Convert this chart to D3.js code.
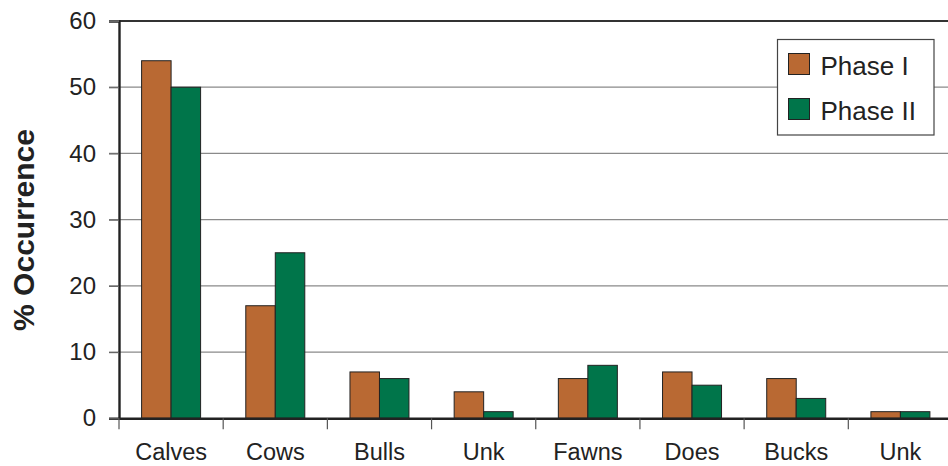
<!DOCTYPE html>
<html lang="en">
<head>
<meta charset="utf-8">
<title>% Occurrence</title>
<script src="https://cdnjs.cloudflare.com/ajax/libs/d3/7.8.5/d3.min.js"></script>
<style>
  body { margin: 0; background: #fff; }
  text { font-family: "Liberation Sans", Arial, Helvetica, sans-serif; fill: #222; }
</style>
</head>
<body>
<div id="chart"></div>
<script>
var categories = ["Calves", "Cows", "Bulls", "Unk", "Fawns", "Does", "Bucks", "Unk"];
var phase1 = [54, 17, 7, 4, 6, 7, 6, 1];
var phase2 = [50, 25, 6, 1, 8, 5, 3, 1];
var seriesNames = ["Phase I", "Phase II"];
var yTicks = [0, 10, 20, 30, 40, 50, 60];

var width = 948, height = 466;
var plotLeft = 119, plotTop = 21, plotRight = 952.5, plotBottom = 418.3;
var colors = ["#b96933", "#00754a"];

var svg = d3.select("#chart").append("svg")
  .attr("width", width)
  .attr("height", height);

var x = d3.scaleBand()
  .domain(d3.range(categories.length))
  .range([plotLeft, plotRight]);

var sub = d3.scaleBand()
  .domain([0, 1])
  .range([0, 59]);

var y = d3.scaleLinear()
  .domain([0, 60])
  .range([plotBottom, plotTop]);

// gridlines (with the tick extending left of the axis)
svg.append("g")
  .selectAll("line")
  .data(yTicks.filter(function(d) { return d > 0 && d < 60; }))
  .enter().append("line")
    .attr("x1", plotLeft - 10)
    .attr("x2", width)
    .attr("y1", function(d) { return y(d); })
    .attr("y2", function(d) { return y(d); })
    .attr("stroke", "#8a8a8a")
    .attr("stroke-width", 1.2);

// top border
svg.append("line")
  .attr("x1", plotLeft).attr("x2", width)
  .attr("y1", y(60)).attr("y2", y(60))
  .attr("stroke", "#333").attr("stroke-width", 1.8);

// bars
var groups = svg.append("g")
  .selectAll("g")
  .data(categories.map(function(c, i) { return [phase1[i], phase2[i]]; }))
  .enter().append("g")
    .attr("transform", function(d, i) { return "translate(" + (x(i) + (x.bandwidth() - 59) / 2) + ",0)"; });

groups.selectAll("rect")
  .data(function(d) { return d; })
  .enter().append("rect")
    .attr("x", function(d, j) { return sub(j); })
    .attr("width", sub.bandwidth())
    .attr("y", function(d) { return y(d); })
    .attr("height", function(d) { return y(0) - y(d); })
    .attr("fill", function(d, j) { return colors[j]; })
    .attr("stroke", "#222")
    .attr("stroke-width", 1);

// y axis
var yAxis = svg.append("g")
  .attr("transform", "translate(" + plotLeft + ",0)")
  .call(d3.axisLeft(y).tickValues(yTicks).tickSize(10).tickPadding(13));
yAxis.select(".domain").attr("stroke", "#222").attr("stroke-width", 2.4);
yAxis.selectAll(".tick line").attr("stroke", "#666").attr("stroke-width", 1.2);
yAxis.selectAll(".tick text")
  .style("font-size", "24px")
  .style("font-family", "'Liberation Sans', Arial, sans-serif")
  .attr("fill", "#222");

// x axis
var xAxis = svg.append("g")
  .attr("transform", "translate(0," + plotBottom + ")")
  .call(d3.axisBottom(x).tickSize(0).tickPadding(25).tickFormat(function(i) { return categories[i]; }));
xAxis.select(".domain").attr("stroke", "#222").attr("stroke-width", 2.6);
xAxis.selectAll(".tick text")
  .style("font-size", "23.5px")
  .style("font-family", "'Liberation Sans', Arial, sans-serif")
  .attr("fill", "#222");

// x boundary ticks
svg.append("g")
  .selectAll("line")
  .data(d3.range(categories.length))
  .enter().append("line")
    .attr("x1", function(i) { return x(i); })
    .attr("x2", function(i) { return x(i); })
    .attr("y1", plotBottom)
    .attr("y2", plotBottom + 11)
    .attr("stroke", "#555")
    .attr("stroke-width", 1.2);

// y title
svg.append("text")
  .attr("transform", "translate(34,230) rotate(-90)")
  .attr("text-anchor", "middle")
  .style("font-size", "30px")
  .style("font-weight", "bold")
  .text("% Occurrence");

// legend
var legend = svg.append("g").attr("transform", "translate(777.5,39.5)");
legend.append("rect")
  .attr("width", 156.5).attr("height", 95.5)
  .attr("fill", "#fff").attr("stroke", "#444").attr("stroke-width", 1.2);
var items = legend.selectAll("g.item")
  .data(seriesNames)
  .enter().append("g")
    .attr("transform", function(d, i) { return "translate(11," + (14 + i * 45) + ")"; });
items.append("rect")
  .attr("width", 21).attr("height", 21)
  .attr("fill", function(d, i) { return colors[i]; })
  .attr("stroke", "#222").attr("stroke-width", 1);
items.append("text")
  .attr("x", 32).attr("y", 21)
  .style("font-size", "26px")
  .text(function(d) { return d; });
</script>
</body>
</html>
